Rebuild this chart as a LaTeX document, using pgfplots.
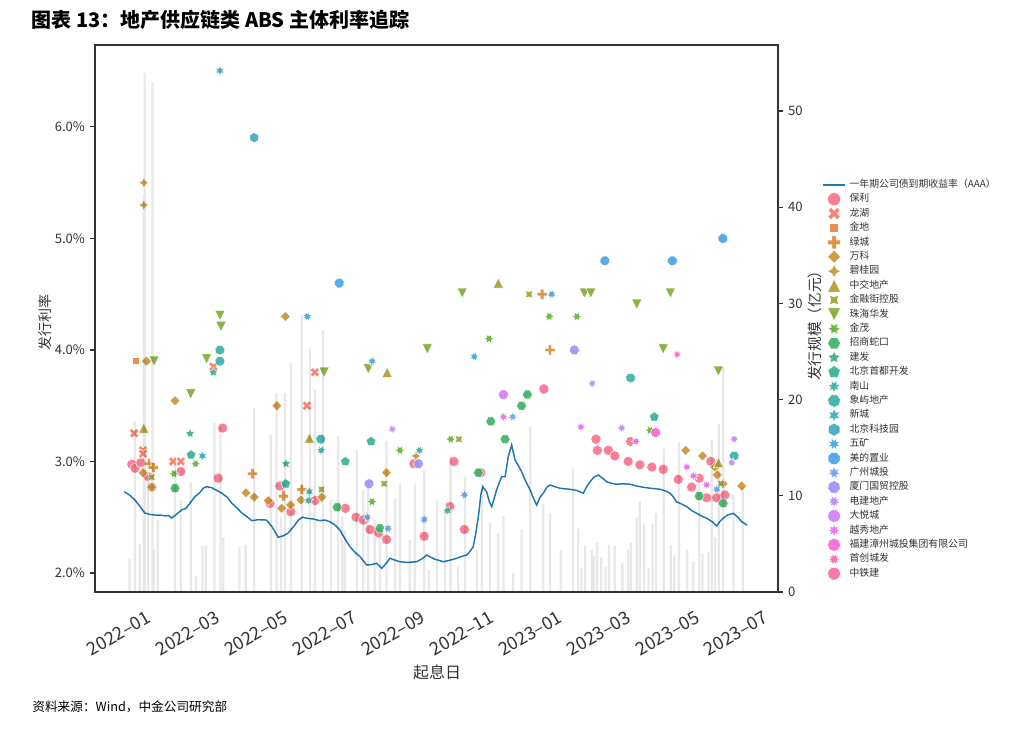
\documentclass[border=0pt]{standalone}
\usepackage{fontspec}
\setmainfont{Noto Sans CJK SC}
\usepackage{pgfplots}
\pgfplotsset{compat=1.18}

\definecolor{axc}{HTML}{333333}
\definecolor{tkc}{HTML}{333333}
\definecolor{lineblue}{HTML}{1F77B4}
\definecolor{c0}{HTML}{F77189}
\definecolor{c1}{HTML}{F47860}
\definecolor{c2}{HTML}{E8833A}
\definecolor{c3}{HTML}{DB8A33}
\definecolor{c4}{HTML}{C99132}
\definecolor{c5}{HTML}{BA9732}
\definecolor{c6}{HTML}{AC9C31}
\definecolor{c7}{HTML}{9CA131}
\definecolor{c8}{HTML}{82A932}
\definecolor{c9}{HTML}{5DB031}
\definecolor{c10}{HTML}{3CB064}
\definecolor{c11}{HTML}{35AF82}
\definecolor{c12}{HTML}{35AE93}
\definecolor{c13}{HTML}{36AD9F}
\definecolor{c14}{HTML}{36ADA9}
\definecolor{c15}{HTML}{37ABB4}
\definecolor{c16}{HTML}{38A9C0}
\definecolor{c17}{HTML}{3AA6D1}
\definecolor{c18}{HTML}{45A2E8}
\definecolor{c19}{HTML}{6E9BF4}
\definecolor{c20}{HTML}{9C8FF4}
\definecolor{c21}{HTML}{BA87F4}
\definecolor{c22}{HTML}{D07CF4}
\definecolor{c23}{HTML}{E36DED}
\definecolor{c24}{HTML}{F264D5}
\definecolor{c25}{HTML}{F566B9}
\definecolor{c26}{HTML}{F66DA1}

% matplotlib-like markers: regular polygons and stars
\newcount\pmk
\def\pmpolygon#1#2{%
  \pgfpathmoveto{\pgfpointpolar{90+#2}{\pgfplotmarksize}}%
  \pmk=1
  \loop\ifnum\pmk<#1\relax
    \pgfpathlineto{\pgfpointpolar{90+#2+\the\pmk*360/#1}{\pgfplotmarksize}}%
    \advance\pmk by 1
  \repeat
  \pgfpathclose\pgfusepathqfillstroke}
\def\pmstar#1#2{%
  \pgfpathmoveto{\pgfpointpolar{90+#2}{\pgfplotmarksize}}%
  \pmk=1
  \loop\ifnum\pmk<\numexpr2*#1\relax
    \ifodd\pmk\def\pmr{0.5*\pgfplotmarksize}\else\def\pmr{\pgfplotmarksize}\fi
    \pgfpathlineto{\pgfpointpolar{90+#2+\the\pmk*180/#1}{\pmr}}%
    \advance\pmk by 1
  \repeat
  \pgfpathclose\pgfusepathqfillstroke}
\def\pmplus#1{%
  \pgfpathmoveto{\pgfpointpolar{71.565+#1}{1.0541*\pgfplotmarksize}}%
  \pgfpathlineto{\pgfpointpolar{45+#1}{0.4714*\pgfplotmarksize}}%
  \pgfpathlineto{\pgfpointpolar{18.435+#1}{1.0541*\pgfplotmarksize}}%
  \pgfpathlineto{\pgfpointpolar{-18.435+#1}{1.0541*\pgfplotmarksize}}%
  \pgfpathlineto{\pgfpointpolar{-45+#1}{0.4714*\pgfplotmarksize}}%
  \pgfpathlineto{\pgfpointpolar{-71.565+#1}{1.0541*\pgfplotmarksize}}%
  \pgfpathlineto{\pgfpointpolar{-108.435+#1}{1.0541*\pgfplotmarksize}}%
  \pgfpathlineto{\pgfpointpolar{-135+#1}{0.4714*\pgfplotmarksize}}%
  \pgfpathlineto{\pgfpointpolar{-161.565+#1}{1.0541*\pgfplotmarksize}}%
  \pgfpathlineto{\pgfpointpolar{161.565+#1}{1.0541*\pgfplotmarksize}}%
  \pgfpathlineto{\pgfpointpolar{135+#1}{0.4714*\pgfplotmarksize}}%
  \pgfpathlineto{\pgfpointpolar{108.435+#1}{1.0541*\pgfplotmarksize}}%
  \pgfpathclose\pgfusepathqfillstroke}
\pgfdeclareplotmark{mX}{\pmplus{45}}
\pgfdeclareplotmark{mP}{\pmplus{0}}
\pgfdeclareplotmark{mSq}{\pmpolygon{4}{45}}
\pgfdeclareplotmark{mDia}{\pmpolygon{4}{0}}
\pgfdeclareplotmark{mTriU}{%
  \pgfpathmoveto{\pgfqpoint{0pt}{\pgfplotmarksize}}%
  \pgfpathlineto{\pgfqpoint{-\pgfplotmarksize}{-\pgfplotmarksize}}%
  \pgfpathlineto{\pgfqpoint{\pgfplotmarksize}{-\pgfplotmarksize}}%
  \pgfpathclose\pgfusepathqfillstroke}
\pgfdeclareplotmark{mTriD}{%
  \pgfpathmoveto{\pgfqpoint{0pt}{-\pgfplotmarksize}}%
  \pgfpathlineto{\pgfqpoint{-\pgfplotmarksize}{\pgfplotmarksize}}%
  \pgfpathlineto{\pgfqpoint{\pgfplotmarksize}{\pgfplotmarksize}}%
  \pgfpathclose\pgfusepathqfillstroke}
\pgfdeclareplotmark{sFourA}{\pmstar{4}{0}}
\pgfdeclareplotmark{sFourB}{\pmstar{4}{45}}
\pgfdeclareplotmark{sSixA}{\pmstar{6}{30}}
\pgfdeclareplotmark{pSixA}{\pmpolygon{6}{30}}
\pgfdeclareplotmark{sFive}{\pmstar{5}{0}}
\pgfdeclareplotmark{pFive}{\pmpolygon{5}{0}}
\pgfdeclareplotmark{sSevA}{\pmstar{7}{25.71}}
\pgfdeclareplotmark{pSevA}{\pmpolygon{7}{25.71}}
\pgfdeclareplotmark{sSixB}{\pmstar{6}{0}}
\pgfdeclareplotmark{pSixB}{\pmpolygon{6}{0}}
\pgfdeclareplotmark{sEigA}{\pmstar{8}{22.5}}
\pgfdeclareplotmark{pEigA}{\pmpolygon{8}{22.5}}
\pgfdeclareplotmark{sSevB}{\pmstar{7}{0}}
\pgfdeclareplotmark{pSevB}{\pmpolygon{7}{0}}
\pgfdeclareplotmark{sNine}{\pmstar{9}{20}}
\pgfdeclareplotmark{pNine}{\pmpolygon{9}{20}}
\pgfdeclareplotmark{sEigB}{\pmstar{8}{0}}
\pgfdeclareplotmark{pEigB}{\pmpolygon{8}{0}}
\pgfdeclareplotmark{sTen}{\pmstar{10}{18}}
\pgfdeclareplotmark{pTen}{\pmpolygon{10}{18}}

\pgfplotsset{
  sc/.style 2 args={only marks, mark=#1, mark size=3.8pt, color=#2,
    mark options={fill=#2, draw=white, line width=0.35pt, fill opacity=0.9}},
}

\begin{document}
\begin{tikzpicture}
\path[use as bounding box] (-71.25pt,-102.75pt) rectangle (690.75pt,444pt);

\begin{axis}[
  scale only axis, width=512.25pt, height=410.25pt,
  xmin=-1.604, xmax=18.32, ymin=1.8296, ymax=6.735,
  axis line style={draw=axc, line width=1.1pt},
  xtick={0,2,4,6,8,10,12,14,16,18},
  xticklabels={2022--01,2022--03,2022--05,2022--07,2022--09,2022--11,2023--01,2023--03,2023--05,2023--07},
  xtick style={draw=none},
  x tick label style={rotate=30, anchor=north east, font=\fontsize{13.5}{15}\selectfont, text=tkc, yshift=-3pt, xshift=-4pt},
  ytick={2,3,4,5,6},
  yticklabels={2.0\%,3.0\%,4.0\%,5.0\%,6.0\%},
  y tick label style={font=\fontsize{9.8}{11}\selectfont, text=tkc},
  ytick pos=left, xtick pos=bottom,
  tick align=outside, major tick length=4pt,
  ytick style={draw=axc, line width=0.8pt},
  legend cell align=left,
  legend image post style={mark size=4.9pt},
  legend style={at={(1.064,0.757)}, anchor=north west, draw=none, fill=none,
    inner sep=0pt, row sep=0.9pt, font=\fontsize{7.4}{8}\selectfont, text=tkc,
    nodes={inner xsep=2.5pt, inner ysep=0pt, text height=7pt, text depth=2.9pt}},
]
\addplot[color=lineblue, line width=1.1pt, mark=none] coordinates {
(-0.75,2.729) (-0.60,2.700) (-0.44,2.655) (-0.30,2.600) (-0.15,2.538) (0.00,2.525) (0.15,2.520) (0.29,2.520)
(0.45,2.512) (0.55,2.515) (0.63,2.493) (0.75,2.520) (0.92,2.565) (1.05,2.580) (1.17,2.628) (1.31,2.684)
(1.45,2.720) (1.55,2.760) (1.65,2.774) (1.80,2.765) (1.95,2.740) (2.09,2.717) (2.25,2.680) (2.38,2.628)
(2.55,2.580) (2.68,2.538) (2.85,2.500) (2.97,2.469) (3.15,2.478) (3.40,2.475) (3.55,2.420) (3.74,2.320)
(3.90,2.335) (4.03,2.359) (4.20,2.420) (4.33,2.475) (4.45,2.500) (4.57,2.491) (4.75,2.485) (4.95,2.470)
(5.10,2.475) (5.25,2.460) (5.40,2.430) (5.54,2.386) (5.70,2.300) (5.83,2.236) (6.00,2.180) (6.13,2.146)
(6.32,2.072) (6.45,2.075) (6.61,2.087) (6.76,2.042) (6.90,2.090) (7.00,2.132) (7.15,2.115) (7.29,2.101)
(7.50,2.095) (7.78,2.101) (7.95,2.130) (8.07,2.161) (8.30,2.125) (8.56,2.101) (8.75,2.115) (8.95,2.132)
(9.10,2.150) (9.24,2.161) (9.35,2.200) (9.43,2.236) (9.50,2.350) (9.58,2.505) (9.65,2.700) (9.71,2.774)
(9.82,2.729) (9.90,2.640) (9.97,2.595) (10.05,2.680) (10.11,2.744) (10.20,2.820) (10.26,2.864) (10.36,2.864)
(10.45,3.043) (10.55,3.148) (10.65,3.013) (10.75,2.960) (10.84,2.909) (10.95,2.830) (11.09,2.744) (11.20,2.660)
(11.28,2.610) (11.38,2.680) (11.47,2.715) (11.58,2.770) (11.67,2.789) (11.80,2.775) (11.96,2.760) (12.10,2.755)
(12.25,2.751) (12.45,2.740) (12.64,2.715) (12.75,2.780) (12.84,2.819) (12.95,2.860) (13.08,2.879) (13.20,2.850)
(13.32,2.819) (13.45,2.805) (13.61,2.796) (13.80,2.800) (14.00,2.796) (14.20,2.780) (14.39,2.769) (14.60,2.760)
(14.88,2.751) (15.05,2.735) (15.17,2.715) (15.25,2.690) (15.36,2.639) (15.50,2.620) (15.66,2.595) (15.80,2.560)
(15.95,2.535) (16.10,2.510) (16.24,2.491) (16.40,2.460) (16.53,2.422) (16.62,2.460) (16.72,2.491) (16.85,2.520)
(17.02,2.535) (17.15,2.500) (17.26,2.460) (17.42,2.430)
};
\addlegendentry{一年期公司债到期收益率（AAA）}
\addplot[sc={*}{c0}] coordinates {
(-0.53,2.975) (-0.44,2.94) (-0.27,2.99) (-0.05,2.864) (0.05,2.77) (0.90,2.91) (1.99,2.85) (2.12,3.30)
(3.50,2.625) (3.79,2.78) (4.11,2.55) (4.81,2.65) (5.70,2.58) (6.01,2.50) (6.22,2.475) (6.42,2.39)
(6.67,2.36) (6.90,2.30) (7.70,2.98) (8.00,2.33) (8.75,2.595) (8.87,3.00) (9.17,2.39) (9.65,2.90)
(13.01,3.20) (13.05,3.10) (13.37,3.10) (13.56,3.05) (13.95,3.00) (14.02,3.18) (14.29,2.97) (14.64,2.95)
(14.97,2.93) (15.41,2.84) (15.80,2.77) (16.02,2.85) (16.24,2.675) (16.36,3.00) (16.53,2.675) (16.77,2.70)
};
\addlegendentry{保利}
\addplot[sc={mX}{c1}] coordinates {
(-0.46,3.253) (-0.20,3.10) (-0.20,3.07) (0.68,3.00) (0.90,3.00) (1.85,3.85) (4.58,3.50) (4.81,3.80)
};
\addlegendentry{龙湖}
\addplot[sc={mSq}{c2}] coordinates {(-0.42,3.90)};
\addlegendentry{金地}
\addplot[sc={mP}{c3}] coordinates {
(-0.03,2.98) (0.10,2.945) (2.99,2.89) (3.89,2.69) (4.43,2.75) (11.44,4.50) (11.67,4.00)
};
\addlegendentry{绿城}
\addplot[sc={mDia}{c4}] coordinates {
(-0.20,2.90) (0.05,2.77) (-0.10,3.90) (0.73,3.545) (2.80,2.72) (3.04,2.68) (3.45,2.65) (3.70,3.50)
(3.84,2.58) (3.95,4.30) (4.10,2.61) (4.40,2.655) (5.01,2.68) (6.90,2.90) (15.63,3.10) (16.12,3.05)
(16.48,2.95) (16.55,2.88) (16.72,2.80) (17.26,2.78)
};
\addlegendentry{万科}
\addplot[sc={sFourA}{c5}] coordinates {(-0.18,5.50) (-0.18,5.30) (7.76,3.05)};
\addlegendentry{碧桂园}
\addplot[sc={mTriU}{c6}] coordinates {(-0.18,3.30) (4.65,3.21) (6.92,3.80) (10.16,4.60) (16.58,2.99)};
\addlegendentry{中交地产}
\addplot[sc={sFourB}{c7}] coordinates {(0.05,2.86) (5.00,2.75) (6.83,2.80) (9.01,3.20) (11.06,4.50) (16.66,2.80)};
\addlegendentry{金融街控股}
\addplot[sc={mTriD}{c8}] coordinates {
(0.12,3.90) (1.19,3.605) (1.65,3.92) (2.04,4.31) (2.07,4.21) (5.08,3.80) (6.37,3.83) (8.09,4.01)
(9.11,4.51) (12.67,4.51) (12.86,4.51) (14.20,4.41) (14.97,4.01) (15.18,4.51) (16.58,3.81)
};
\addlegendentry{珠海华发}
\addplot[sc={sSixA}{c9}] coordinates {
(0.70,2.89) (1.33,2.98) (6.48,2.64) (7.29,3.10) (8.77,3.20) (9.89,4.10) (11.65,4.30) (12.45,4.30) (14.59,3.28)
};
\addlegendentry{金茂}
\addplot[sc={pSixA}{c10}] coordinates {
(0.73,2.76) (5.46,2.59) (6.71,2.40) (9.58,2.90) (9.94,3.36) (10.36,3.20) (10.84,3.50) (11.01,3.60) (16.02,2.69) (16.72,2.625)
};
\addlegendentry{招商蛇口}
\addplot[sc={sFive}{c11}] coordinates {(1.17,3.25) (1.85,3.80) (3.97,2.98)};
\addlegendentry{建发}
\addplot[sc={pFive}{c12}] coordinates {(1.20,3.06) (3.96,2.80) (5.70,3.00) (6.45,3.18) (14.71,3.40)};
\addlegendentry{北京首都开发}
\addplot[sc={sSevA}{c13}] coordinates {(4.99,3.10) (4.62,2.65) (7.86,3.10) (8.68,2.56)};
\addlegendentry{南山}
\addplot[sc={pSevA}{c14}] coordinates {(2.04,4.00) (2.04,3.90) (4.98,3.20) (14.02,3.75) (17.04,3.05)};
\addlegendentry{象屿地产}
\addplot[sc={sSixB}{c15}] coordinates {(2.04,6.505) (1.53,3.05) (4.65,2.73)};
\addlegendentry{新城}
\addplot[sc={pSixB}{c16}] coordinates {(3.04,5.904)};
\addlegendentry{北京科技园}
\addplot[sc={sEigA}{c17}] coordinates {(4.59,4.30) (6.48,3.90) (9.46,3.94) (11.72,4.50)};
\addlegendentry{五矿}
\addplot[sc={pEigA}{c18}] coordinates {(5.52,4.60) (13.27,4.80) (15.24,4.80) (16.71,5.00)};
\addlegendentry{美的置业}
\addplot[sc={sSevB}{c19}] coordinates {(6.34,2.50) (6.95,2.40) (8.00,2.48) (9.17,2.70) (10.58,3.40) (16.53,2.75)};
\addlegendentry{广州城投}
\addplot[sc={pSevB}{c20}] coordinates {(6.39,2.80) (7.83,2.98) (12.38,4.00)};
\addlegendentry{厦门国贸控股}
\addplot[sc={sNine}{c21}] coordinates {(7.07,3.29) (12.90,3.70) (13.76,3.30) (17.04,3.20) (16.97,2.99)};
\addlegendentry{电建地产}
\addplot[sc={pNine}{c22}] coordinates {(10.31,3.60)};
\addlegendentry{大悦城}
\addplot[sc={sEigB}{c23}] coordinates {(10.31,3.40) (12.57,3.31) (14.18,3.18) (15.66,2.95) (15.85,2.87) (16.24,2.79)};
\addlegendentry{越秀地产}
\addplot[sc={pEigB}{c24}] coordinates {(14.75,3.26)};
\addlegendentry{福建漳州城投集团有限公司}
\addplot[sc={sTen}{c25}] coordinates {(15.38,3.96)};
\addlegendentry{首创城发}
\addplot[sc={pTen}{c26}] coordinates {(11.49,3.65)};
\addlegendentry{中铁建}
\end{axis}

\begin{axis}[
  scale only axis, width=512.25pt, height=410.25pt,
  xmin=-1.604, xmax=18.32, ymin=0, ymax=56.86,
  axis x line=none, axis y line*=right,
  axis line style={draw=axc, line width=1.1pt},
  ytick={0,10,20,30,40,50},
  yticklabels={0,10,20,30,40,50},
  y tick label style={font=\fontsize{9.8}{11}\selectfont, text=tkc},
  tick align=outside, major tick length=4pt,
  ytick style={draw=axc, line width=0.8pt},
]
\addplot[ybar, bar width=1.7pt, bar shift=0pt, fill=black, fill opacity=0.09, draw=none] coordinates {
(-0.60,3.5) (-0.44,17.8) (-0.30,5.0) (-0.18,41.3) (-0.15,54.0) (-0.05,12.0) (0.07,53.0) (0.12,4.4)
(0.23,7.5) (0.73,13.1) (0.90,9.6) (1.19,11.4) (1.34,1.7) (1.53,4.8) (1.63,4.9) (1.88,17.6)
(2.06,17.2) (2.14,5.7) (2.61,4.7) (2.79,4.9) (3.04,19.1) (3.52,16.3) (3.69,20.7) (3.82,7.8)
(3.94,20.7) (4.11,23.8) (4.43,28.8) (4.67,25.3) (4.81,21.0) (5.04,27.2) (5.28,9.6) (5.49,16.2)
(5.61,7.8) (5.69,6.4) (6.03,14.8) (6.22,10.6) (6.37,10.8) (6.56,7.5) (6.71,5.7) (6.90,15.7)
(7.15,9.7) (7.29,11.3) (7.58,5.4) (7.73,11.3) (8.00,12.6) (8.14,2.3) (8.38,9.5) (8.61,8.5)
(8.77,14.2) (8.99,2.6) (9.19,12.0) (9.53,4.4) (9.68,11.3) (9.92,7.2) (10.16,6.1) (10.31,7.9)
(10.60,2.0) (10.84,6.5) (11.09,17.2) (11.47,9.2) (11.67,8.2) (11.98,4.4) (12.35,12.9) (12.49,6.6)
(12.59,2.5) (12.69,4.9) (12.89,4.4) (12.95,3.7) (13.05,5.1) (13.16,3.6) (13.29,2.6) (13.39,4.9)
(13.56,4.8) (13.78,3.0) (13.95,4.4) (14.03,5.1) (14.20,7.7) (14.29,9.4) (14.41,7.0) (14.54,2.5)
(14.66,7.1) (14.76,8.2) (14.99,14.9) (15.19,4.9) (15.29,3.8) (15.43,15.6) (15.67,4.4) (15.85,3.2)
(16.02,11.1) (16.12,4.0) (16.29,4.2) (16.39,15.8) (16.48,5.7) (16.59,17.5) (16.72,23.4) (17.02,10.1)
(17.29,10.9)
};
\end{axis}

\node[anchor=west, font=\fontsize{15}{17}\selectfont\bfseries] at (-51pt,429pt) {图表 13：地产供应链类 ABS 主体利率追踪};
\node[anchor=west, font=\fontsize{9.5}{11}\selectfont] at (-50.5pt,-86.25pt) {资料来源：Wind，中金公司研究部};
\node[rotate=90, font=\fontsize{10.5}{12}\selectfont, text=tkc] at (-37.5pt,202.5pt) {发行利率};
\node[rotate=90, font=\fontsize{11}{12}\selectfont, text=tkc] at (540pt,202.5pt) {发行规模（亿元）};
\node[font=\fontsize{12}{13}\selectfont, text=tkc] at (256.5pt,-60pt) {起息日};
\end{tikzpicture}
\end{document}
